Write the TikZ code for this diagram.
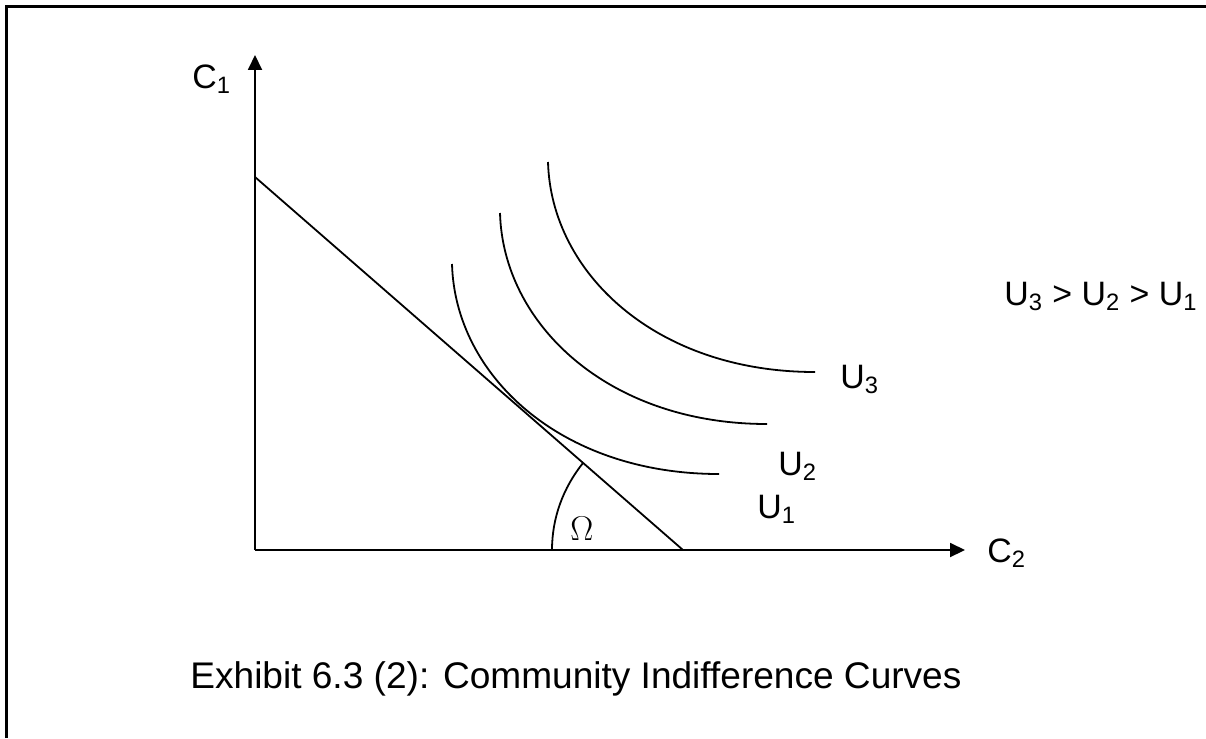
\documentclass[tikz,border=0pt]{standalone}
\usepackage{fontspec}
\setmainfont{Liberation Sans}
\newfontfamily\omegafont{Liberation Serif}
\usepackage{tikz}
\usetikzlibrary{arrows.meta,calc}
\tikzset{
  axis-line/.style={-{Triangle[length=7.5pt,width=7pt]},line width=1pt,draw=black},
  curve-line/.style={line width=0.9pt,draw=black},
  label-text/.style={anchor=base west,inner sep=0pt,font=\fontsize{17}{20}\selectfont},
  caption-text/.style={anchor=base west,inner sep=0pt,font=\fontsize{18.6}{22}\selectfont},
}

\begin{document}
\begin{tikzpicture}[x=0.5bp,y=-0.5bp]
  \useasboundingbox (0,0) rectangle (1206,738);
  \fill[white] (-20,-20) rectangle (1226,758);
  % frame
  \draw[line width=1.5pt] (6.5,738) -- (6.5,6.5) -- (1200,6.5);
  \draw[line width=1.5pt] (1199,6.5) -- (1230,6.5);

  % axes
  \coordinate (O)    at (255,550);
  \coordinate (yEnd) at (255,55);
  \coordinate (xEnd) at (965,550);
  \draw[axis-line] (O) -- (yEnd);
  \draw[axis-line] (O) -- (xEnd);
  \node[label-text] (lblC1) at (192,88) {C\textsubscript{1}};
  \node[label-text] (lblC2) at (987,562) {C\textsubscript{2}};

  % budget line
  \coordinate (bA) at (255,177);
  \coordinate (bB) at (683,550);
  \draw[curve-line] (bA) -- (bB);

  % angle
  \coordinate (omBot) at (552,550);
  \coordinate (omTop) at (583,463);
  \draw[curve-line] (omBot) .. controls (552,518) and (563,488) .. (omTop);
  \node[anchor=base west,inner sep=0pt,font=\omegafont\fontsize{17.5}{20}\selectfont]
    (lblOm) at (570,540) {$\Omega$};

  % indifference curves
  \coordinate (u1s) at (452,264);
  \coordinate (u1e) at (719,474);
  \coordinate (u2s) at (500,213);
  \coordinate (u2e) at (767,424);
  \coordinate (u3s) at (548,162);
  \coordinate (u3e) at (815,372);
  \draw[curve-line] (u1s) .. controls (455,375) and (560,474) .. (u1e);
  \draw[curve-line] (u2s) .. controls (503,324) and (608,424) .. (u2e);
  \draw[curve-line] (u3s) .. controls (551,273) and (656,372) .. (u3e);
  \node[label-text] (lblU1) at (757,518) {U\textsubscript{1}};
  \node[label-text] (lblU2) at (778,475) {U\textsubscript{2}};
  \node[label-text] (lblU3) at (840,388) {U\textsubscript{3}};

  \node[label-text] (rank) at (1004,305)
    {U\textsubscript{3} > U\textsubscript{2} > U\textsubscript{1}};

  \node[caption-text] (caption) at (190,688)
    {Exhibit 6.3 (2): Community Indifference Curves};
\end{tikzpicture}
\end{document}
